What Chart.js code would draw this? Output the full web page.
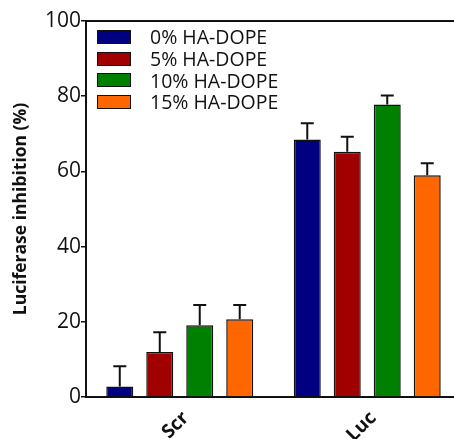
<!DOCTYPE html>
<html>
<head>
<meta charset="utf-8">
<script src="https://cdn.jsdelivr.net/npm/chart.js@4.4.0/dist/chart.umd.min.js"></script>
<style>
  html,body{margin:0;padding:0;background:#fff;overflow:hidden;}
  #wrap{position:relative;width:454px;height:439px;overflow:hidden;}
  #legend{position:absolute;left:97px;top:26px;font-family:'Open Sans',sans-serif;font-size:19.5px;color:#111;}
  .legend-row{display:flex;align-items:center;height:21.7px;}
  .legend-sq{width:32px;height:12px;border:1.5px solid #111;margin-right:19px;}
</style>
</head>
<body>
<div id="wrap">
  <canvas id="chartLuc" width="470" height="439"></canvas>
  <div id="legend"></div>
</div>
<script>
// groups and series
const groups=['Scr','Luc'];
const seriesLabels=['0% HA-DOPE','5% HA-DOPE','10% HA-DOPE','15% HA-DOPE'];
const ha0=[2.8,68.5];
const ha5=[12.0,65.2];
const ha10=[19.1,77.8];
const ha15=[20.7,59.0];
// SEM (upper bar only)
const ha0Err=[5.4,4.3];
const ha5Err=[5.2,4.0];
const ha10Err=[5.4,2.4];
const ha15Err=[3.8,3.2];
const yTicks=[0,20,40,60,80,100];

const colors=['#000080','#a00000','#008000','#ff6600'];
const values=[ha0,ha5,ha10,ha15];
const errs=[ha0Err,ha5Err,ha10Err,ha15Err];

// error bars drawn on top of each bar
const errorBars={
  id:'errorBars',
  afterDatasetsDraw(chart){
    const ctx=chart.ctx, y=chart.scales.y;
    ctx.save();
    ctx.strokeStyle='#111';ctx.lineWidth=2;
    chart.data.datasets.forEach((ds,i)=>{
      chart.getDatasetMeta(i).data.forEach((bar,j)=>{
        const top=y.getPixelForValue(ds.data[j]+ds.err[j]);
        ctx.beginPath();
        ctx.moveTo(bar.x,bar.y);ctx.lineTo(bar.x,top);
        ctx.moveTo(bar.x-6.5,top);ctx.lineTo(bar.x+6.5,top);
        ctx.stroke();
      });
    });
    ctx.restore();
  }
};
// frame line along the top of the plot
const topFrame={
  id:'topFrame',
  afterDraw(chart){
    const {ctx,chartArea:a}=chart;
    ctx.save();ctx.strokeStyle='#111';ctx.lineWidth=2;
    ctx.beginPath();ctx.moveTo(a.left-1,a.top);ctx.lineTo(a.right,a.top);ctx.stroke();
    ctx.restore();
  }
};

new Chart(document.getElementById('chartLuc'),{
  type:'bar',
  data:{labels:groups,datasets:seriesLabels.map((l,i)=>({label:l,data:values[i],err:errs[i],backgroundColor:colors[i],borderColor:'#111',borderWidth:1.5,categoryPercentage:0.853,barPercentage:0.675}))},
  options:{
    responsive:false,animation:false,
    layout:{padding:{top:21,right:9,left:0,bottom:0}},
    plugins:{legend:{display:false},tooltip:{enabled:false}},
    scales:{
      x:{
        grid:{display:false},border:{color:'#111',width:2},
        afterFit:s=>{s.height=42;},
        ticks:{color:'#111',font:{family:'Open Sans',size:19,weight:'bold'},minRotation:45,maxRotation:45,autoSkip:false,labelOffset:6,padding:2}
      },
      y:{
        min:0,max:100,
        afterFit:s=>{s.width=86;},
        afterBuildTicks:s=>{s.ticks=yTicks.map(v=>({value:v}));},
        grid:{drawOnChartArea:false,tickLength:5,color:'#111',lineWidth:1.5},
        border:{color:'#111',width:2},
        ticks:{color:'#111',font:{family:'Open Sans',size:21},padding:0},
        title:{display:true,text:'Luciferase inhibition (%)',color:'#111',font:{family:'Open Sans',size:17.5,weight:'bold'},padding:{top:11,bottom:0}}
      }
    }
  },
  plugins:[errorBars,topFrame]
});

document.getElementById('legend').innerHTML=seriesLabels.map((l,i)=>`<div class="legend-row"><span class="legend-sq" style="background:${colors[i]}"></span>${l}</div>`).join('');
</script>
</body>
</html>
